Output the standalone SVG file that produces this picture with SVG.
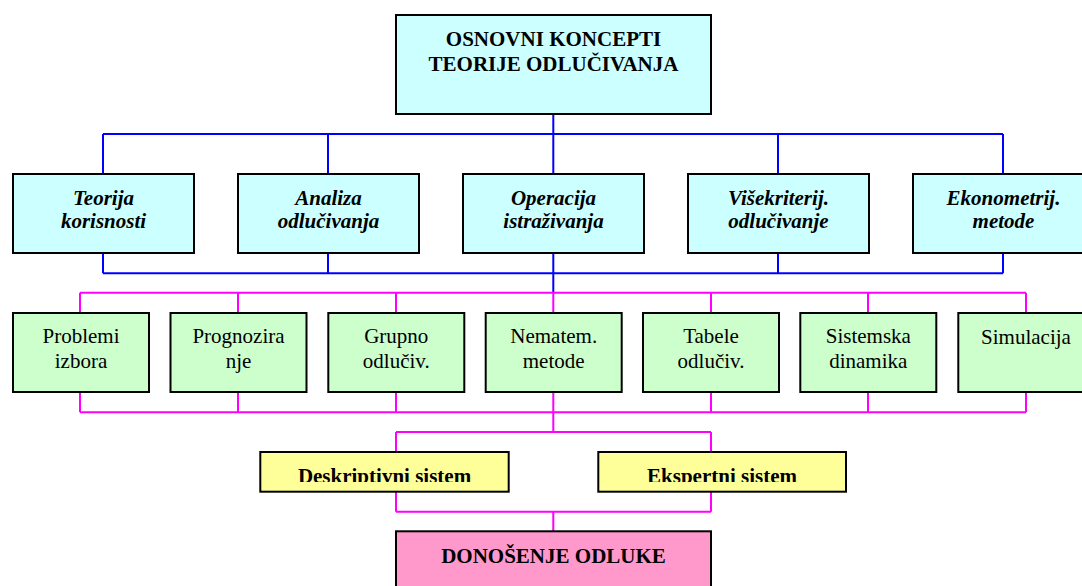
<svg xmlns="http://www.w3.org/2000/svg" width="1082" height="586" viewBox="0 0 1082 586">
  <style>
    .box { stroke: #000; stroke-width: 2; }
    .cyan { fill: #ccffff; }
    .green { fill: #ccffcc; }
    .yellow { fill: #ffff99; }
    .pink { fill: #ff99cc; }
    .t { font-family: "Liberation Serif", "Times New Roman", serif; font-size: 21px; fill: #000; text-anchor: middle; }
    .b { font-weight: bold; }
    .bi { font-weight: bold; font-style: italic; }
    .blue { stroke: #0000ff; stroke-width: 2; fill: none; }
    .mag { stroke: #ff00ff; stroke-width: 2; fill: none; }
  </style>
  <defs>
    <clipPath id="clipDesc"><rect x="260" y="452" width="250" height="30"/></clipPath>
    <clipPath id="clipEksp"><rect x="598" y="452" width="250" height="30"/></clipPath>
  </defs>
  <rect width="1082" height="586" fill="#fff"/>

  <!-- connectors -->
  <g id="connectors">
    <!-- blue tree: root to second level -->
    <path class="blue" d="M553.3 114 V174 M103 134 H1003 M103 134 V174 M328 134 V174 M778 134 V174 M1003 134 V174"/>
    <path class="blue" d="M103 253 V273.3 M328 253 V273.3 M553.3 253 V293 M778 253 V273.3 M1003 253 V273.3 M103 273.3 H1003"/>
    <!-- magenta tree: methods -->
    <path class="mag" d="M80 292.7 H1026 M80 292.7 V313 M238 292.7 V313 M396 292.7 V313 M553.3 292.7 V313 M711 292.7 V313 M868 292.7 V313 M1026 292.7 V313"/>
    <path class="mag" d="M80 392 V412.3 M238 392 V412.3 M396 392 V412.3 M553.3 392 V412.3 M711 392 V412.3 M868 392 V412.3 M1026 392 V412.3 M80 412.3 H1026"/>
    <path class="mag" d="M553.3 412.3 V432 M396 432 H711 M396 432 V452 M711 432 V452"/>
    <path class="mag" d="M396 491.7 V511.7 M711 491.7 V511.7 M396 511.7 H711 M553.3 511.7 V531.3"/>
  </g>

  <!-- root -->
  <g id="node-root">
    <rect class="box cyan" x="396" y="15" width="315" height="99"/>
    <text class="t b" x="553.5" y="45.7">OSNOVNI KONCEPTI</text>
    <text class="t b" x="553.5" y="71">TEORIJE ODLUČIVANJA</text>
  </g>

  <!-- second level -->
  <g id="node-teorija">
    <rect class="box cyan" x="13" y="174" width="181" height="79"/>
    <text class="t bi" x="103.5" y="205">Teorija</text>
    <text class="t bi" x="103.5" y="228.3">korisnosti</text>
  </g>
  <g id="node-analiza">
    <rect class="box cyan" x="238" y="174" width="181" height="79"/>
    <text class="t bi" x="328.5" y="205">Analiza</text>
    <text class="t bi" x="328.5" y="228.3">odlučivanja</text>
  </g>
  <g id="node-operacija">
    <rect class="box cyan" x="463" y="174" width="181" height="79"/>
    <text class="t bi" x="553.5" y="205">Operacija</text>
    <text class="t bi" x="553.5" y="228.3">istraživanja</text>
  </g>
  <g id="node-visekriterij">
    <rect class="box cyan" x="688" y="174" width="181" height="79"/>
    <text class="t bi" x="778.5" y="205">Višekriterij.</text>
    <text class="t bi" x="778.5" y="228.3">odlučivanje</text>
  </g>
  <g id="node-ekonometrij">
    <rect class="box cyan" x="913" y="174" width="181" height="79"/>
    <text class="t bi" x="1003.5" y="205">Ekonometrij.</text>
    <text class="t bi" x="1003.5" y="228.3">metode</text>
  </g>

  <!-- third level -->
  <g id="node-problemi">
    <rect class="box green" x="13" y="313" width="136" height="79"/>
    <text class="t" x="81" y="343.3">Problemi</text>
    <text class="t" x="81" y="367.7">izbora</text>
  </g>
  <g id="node-prognoziranje">
    <rect class="box green" x="170.5" y="313" width="136" height="79"/>
    <text class="t" x="238.5" y="343.3">Prognozira</text>
    <text class="t" x="238.5" y="367.7">nje</text>
  </g>
  <g id="node-grupno">
    <rect class="box green" x="328.3" y="313" width="136" height="79"/>
    <text class="t" x="396.3" y="343.3">Grupno</text>
    <text class="t" x="396.3" y="367.7">odlučiv.</text>
  </g>
  <g id="node-nematem">
    <rect class="box green" x="485.7" y="313" width="136" height="79"/>
    <text class="t" x="553.7" y="343.3">Nematem.</text>
    <text class="t" x="553.7" y="367.7">metode</text>
  </g>
  <g id="node-tabele">
    <rect class="box green" x="643" y="313" width="136" height="79"/>
    <text class="t" x="711" y="343.3">Tabele</text>
    <text class="t" x="711" y="367.7">odlučiv.</text>
  </g>
  <g id="node-sistemska">
    <rect class="box green" x="800.3" y="313" width="136" height="79"/>
    <text class="t" x="868.3" y="343.3">Sistemska</text>
    <text class="t" x="868.3" y="367.7">dinamika</text>
  </g>
  <g id="node-simulacija">
    <rect class="box green" x="958.3" y="313" width="136" height="79"/>
    <text class="t" x="1026" y="344">Simulacija</text>
  </g>

  <!-- systems -->
  <g id="node-deskriptivni">
    <rect class="box yellow" x="260.3" y="452" width="248.4" height="39.7"/>
    <text class="t b" x="384.5" y="483" clip-path="url(#clipDesc)">Deskriptivni sistem</text>
  </g>
  <g id="node-ekspertni">
    <rect class="box yellow" x="598.3" y="452" width="247.7" height="39.7"/>
    <text class="t b" x="722" y="483" clip-path="url(#clipEksp)">Ekspertni sistem</text>
  </g>

  <!-- decision -->
  <g id="node-donosenje">
    <rect class="box pink" x="396" y="531.3" width="315" height="80"/>
    <text class="t b" x="553.5" y="562.7">DONOŠENJE ODLUKE</text>
  </g>
</svg>
